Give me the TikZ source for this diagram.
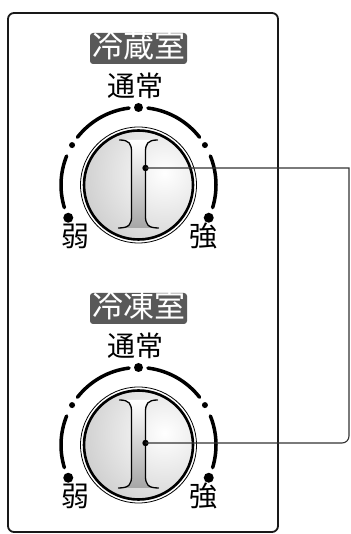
\documentclass[tikz,border=0pt]{standalone}
\usepackage{fontspec}
\newfontfamily\jp{Noto Sans CJK JP}

\begin{document}
\begin{tikzpicture}[x=1pt,y=1pt,
    panel/.style={draw=black!90,line width=1.8pt,rounded corners=6pt},
    tag/.style={fill=black!65,text=white,rounded corners=3pt,
        inner xsep=2pt,inner ysep=0pt,text height=25pt,text depth=6pt,
        font=\jp\fontsize{31}{31}\selectfont},
    lbl/.style={inner sep=0pt,font=\jp\fontsize{28}{28}\selectfont},
    dialarc/.style={line width=3.5pt,line cap=round},
    leader/.style={draw=black!80,line width=1.1pt},
    pics/dial/.style 2 args={code={
        \node[tag] (-tag) at (0,136.5) {#1};
        \node[lbl] (-mid) at (-3.5,99.5) {通常};
        \node[lbl] (-lo) at (-63,-51) {弱};
        \node[lbl] (-hi) at (64.5,-51) {強};
        \foreach \a/\b in {97/142,83/38,158/197,22/-17}
            \draw[dialarc] (\a:77.5) arc[start angle=\a,end angle=\b,radius=77.5];
        \foreach \a/\r in {90/4.5,149/3,31/3,205/5,-25/5}
            \fill (\a:77.5) circle[radius=\r];
        % knob
        \draw[line width=0.8pt] (0,0) circle[radius=58];
        \begin{scope}
            \clip (0,0) circle[radius=54];
            \shade[inner color=white,outer color=black!38] (26,12) circle[radius=170];
        \end{scope}
        \draw[line width=2.6pt] (0,0) circle[radius=54.5];
        \shade[top color=white,bottom color=black!35]
            (-19,45) .. controls (-9,45) and (-7,41) .. (-7,33) -- (-7,-31)
            .. controls (-7,-39) and (-9,-43) .. (-20,-43) -- (20,-43)
            .. controls (9,-43) and (7,-39) .. (7,-31) -- (7,33)
            .. controls (7,41) and (9,45) .. (19,45) -- cycle;
        \foreach \s in {-1,1}
            \draw[line width=1.3pt,line cap=round]
                (19*\s,45) .. controls (9*\s,45) and (7*\s,41) .. (7*\s,33) -- (7*\s,-31)
                .. controls (7*\s,-39) and (9*\s,-43) .. (20*\s,-43);
        \coordinate (-pin) at (7,#2);
        \fill (-pin) circle[radius=3.2];
    }}]
    \useasboundingbox (0,0) rectangle (350,534);
    \draw[panel] (8,2) rectangle (278,521);

    \pic (fr) at (138.5,349) {dial={冷蔵室}{17}};
    \pic (fz) at (138.5,89) {dial={冷凍室}{2}};

    \coordinate (rail) at (349,0);
    \draw[leader] (fr-pin) -- (fr-pin -| rail) [rounded corners=7pt] -- (fz-pin -| rail) -- (fz-pin);
\end{tikzpicture}
\end{document}
